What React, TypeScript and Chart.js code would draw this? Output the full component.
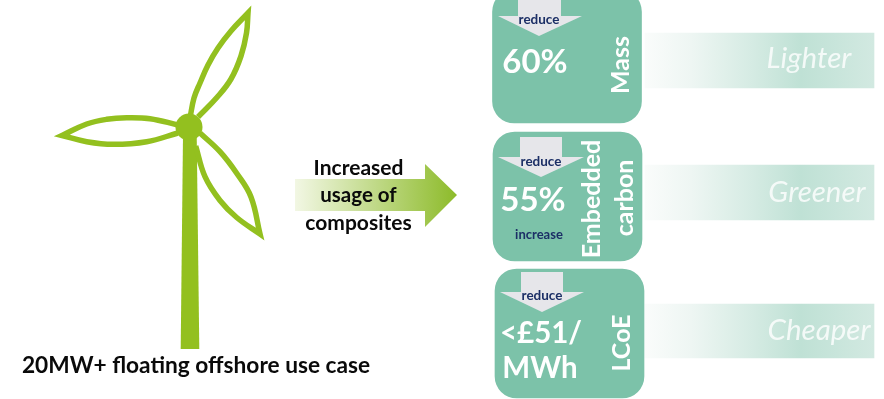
import React, { useEffect, useRef } from "react";
import { Chart, registerables } from "chart.js";

Chart.register(...registerables);

type Pt = { x: number; y: number };
const pts = (list: number[][]): Pt[] => list.map(([x, y]) => ({ x, y }));

// Wind turbine: each blade is one curved outline, with its tip point doubled so the corner stays sharp
const bladeUp = pts([[190,118],[194,98],[200,83],[208,65],[218,48],[231,31],[248,13],[248,13],[246.5,33],[241,56],[231,79],[217.3,97],[198,117]]);
const bladeLeft = pts([[178,125],[150,118.7],[126.7,117.7],[106.7,119.3],[86.7,124],[62,135.5],[62,135.5],[86.7,141.7],[113.3,144.3],[146.7,141.7],[178,133]]);
const bladeDown = pts([[200,133],[220,151.7],[236.7,173.3],[251,197],[260,234],[260,234],[236.7,217.5],[220,200.5],[205,176.7],[195.7,146]]);
const tower = pts([[183,135],[196.7,135],[199.3,349],[180.7,349],[183,135]]);
const hub = pts([[189,127]]);

// Central arrow
const bigArrow = pts([[295,179],[425,179],[425,164],[457,195],[425,227],[425,211],[295,211],[295,179]]);

// Metric cards: centre x, top, bottom
const cardBars = [
  { x: 567, y: [-10, 123] },
  { x: 567.5, y: [132, 261] },
  { x: 569.5, y: [269, 398] },
];
// Fading outcome bands
const bandBars = [
  { x: 759.5, y: [33, 88] },
  { x: 759.5, y: [165, 220] },
  { x: 759.5, y: [304, 358] },
];
// "Reduce" arrows on each card
const reduceA = pts([[518,0],[561,0],[561,16],[582,16],[539,36],[498,16],[518,16],[518,0]]);
const reduceB = pts([[520,137],[562,137],[562,157],[584,157],[541,177],[498,157],[520,157],[520,137]]);
const reduceC = pts([[521,272],[563,272],[563,292],[584,292],[542,312],[500,292],[521,292],[521,272]]);

const arrowLines = ["Increased", "usage of", "composites"];
const caption = "20MW+ floating offshore use case";
const reduceLabel = "reduce";
const increaseLabel = "increase";
const outcomes = ["Lighter", "Greener", "Cheaper"];

const GREEN = "#93c01f";
const TEAL = "#7cc2a9";
const GREY = "#e6e6ea";
const NAVY = "#1c2f66";

const poly = (data: Pt[], extra: object) => ({
  type: "scatter" as const,
  data,
  showLine: true,
  pointRadius: 0,
  tension: 0,
  ...extra,
});

export default function App() {
  const ref = useRef<HTMLCanvasElement>(null);

  useEffect(() => {
    const ctx = ref.current!.getContext("2d")!;

    const arrowFill = ctx.createLinearGradient(295, 0, 457, 0);
    arrowFill.addColorStop(0, "#f2f7e4");
    arrowFill.addColorStop(1, "#8dbb2a");

    const bandFill = ctx.createLinearGradient(645, 0, 874, 0);
    bandFill.addColorStop(0, "#fafcfb");
    bandFill.addColorStop(0.2, "#eef6f3");
    bandFill.addColorStop(0.47, "#d5ebe3");
    bandFill.addColorStop(0.68, "#bfe1d5");
    bandFill.addColorStop(1, "#d2e9e1");

    const labels = {
      id: "labels",
      afterDatasetsDraw(chart: Chart) {
        const c = chart.ctx;
        const text = (
          s: string, x: number, y: number, font: string, color: string, rotate = false,
        ) => {
          c.save();
          c.translate(x, y);
          if (rotate) c.rotate(-Math.PI / 2);
          c.font = font;
          c.fillStyle = color;
          c.textAlign = "center";
          c.textBaseline = "middle";
          c.fillText(s, 0, 0);
          c.restore();
        };
        const bold = (n: number) => `bold ${n}px Lato, "Open Sans", sans-serif`;
        const ital = `italic 29.5px Lato, "Open Sans", sans-serif`;

        text(caption, 196, 366, bold(22.7), "#0a0a0a");
        text(arrowLines[0], 358.5, 168, bold(21), "#0a0a0a");
        text(arrowLines[1], 358.5, 195, bold(20.5), "#0a0a0a");
        text(arrowLines[2], 358.5, 223, bold(21), "#0a0a0a");

        text(reduceLabel, 539, 20, bold(13.5), NAVY);
        text(reduceLabel, 541, 162, bold(13.5), NAVY);
        text(reduceLabel, 542, 296, bold(13.5), NAVY);
        text(increaseLabel, 539, 235, bold(13), NAVY);

        text("60%", 535, 62, bold(33), "#ffffff");
        text("55%", 533, 200, bold(33), "#ffffff");
        text("<£51/", 541, 333, bold(29.5), "#ffffff");
        text("MWh", 540, 368, bold(29.5), "#ffffff");

        text("Mass", 621, 65, bold(25), "#ffffff", true);
        text("Embedded", 592, 199, bold(25), "#ffffff", true);
        text("carbon", 625, 198, bold(25), "#ffffff", true);
        text("LCoE", 622, 343, bold(25), "#ffffff", true);

        const soft = "rgba(255,255,255,0.8)";
        text(outcomes[0], 809, 58, ital, soft);
        text(outcomes[1], 817, 192, ital, soft);
        text(outcomes[2], 819, 330, ital, soft);
      },
    };

    const blade = { borderColor: GREEN, borderWidth: 5.5, tension: 0.4, borderJoinStyle: "miter", order: 1 };
    const solid = { borderWidth: 0, backgroundColor: GREEN, fill: "shape", order: 1 };
    const arrow = { borderWidth: 0, backgroundColor: GREY, fill: "shape", order: 2 };

    const chart = new Chart(ctx, {
      type: "scatter",
      data: {
        datasets: [
          { type: "scatter", data: hub, pointRadius: 13.5, pointBackgroundColor: GREEN, pointBorderWidth: 0, order: 0 },
          poly(bladeUp, blade),
          poly(bladeLeft, blade),
          poly(bladeDown, blade),
          poly(tower, solid),
          poly(bigArrow, { borderWidth: 0, backgroundColor: arrowFill, fill: "shape", order: 2 }),
          poly(reduceA, arrow),
          poly(reduceB, arrow),
          poly(reduceC, arrow),
          {
            type: "bar", data: cardBars, backgroundColor: TEAL, barThickness: 149,
            borderRadius: 22, borderSkipped: false, grouped: false, order: 3,
          },
          {
            type: "bar", data: bandBars, backgroundColor: bandFill, barThickness: 229,
            borderSkipped: false, grouped: false, order: 4,
          },
        ] as any,
      },
      options: {
        responsive: false,
        animation: false,
        layout: { padding: 0, autoPadding: false },
        events: [],
        plugins: { legend: { display: false }, tooltip: { enabled: false } },
        scales: {
          x: { type: "linear", min: 0, max: 884, display: false, offset: false },
          y: { type: "linear", min: 0, max: 399, reverse: true, display: false },
        },
      },
      plugins: [labels],
    });
    return () => chart.destroy();
  }, []);

  return (
    <canvas
      ref={ref}
      width={884}
      height={399}
      style={{ position: "fixed", left: 0, top: 0, width: 884, height: 399, display: "block" }}
    />
  );
}
